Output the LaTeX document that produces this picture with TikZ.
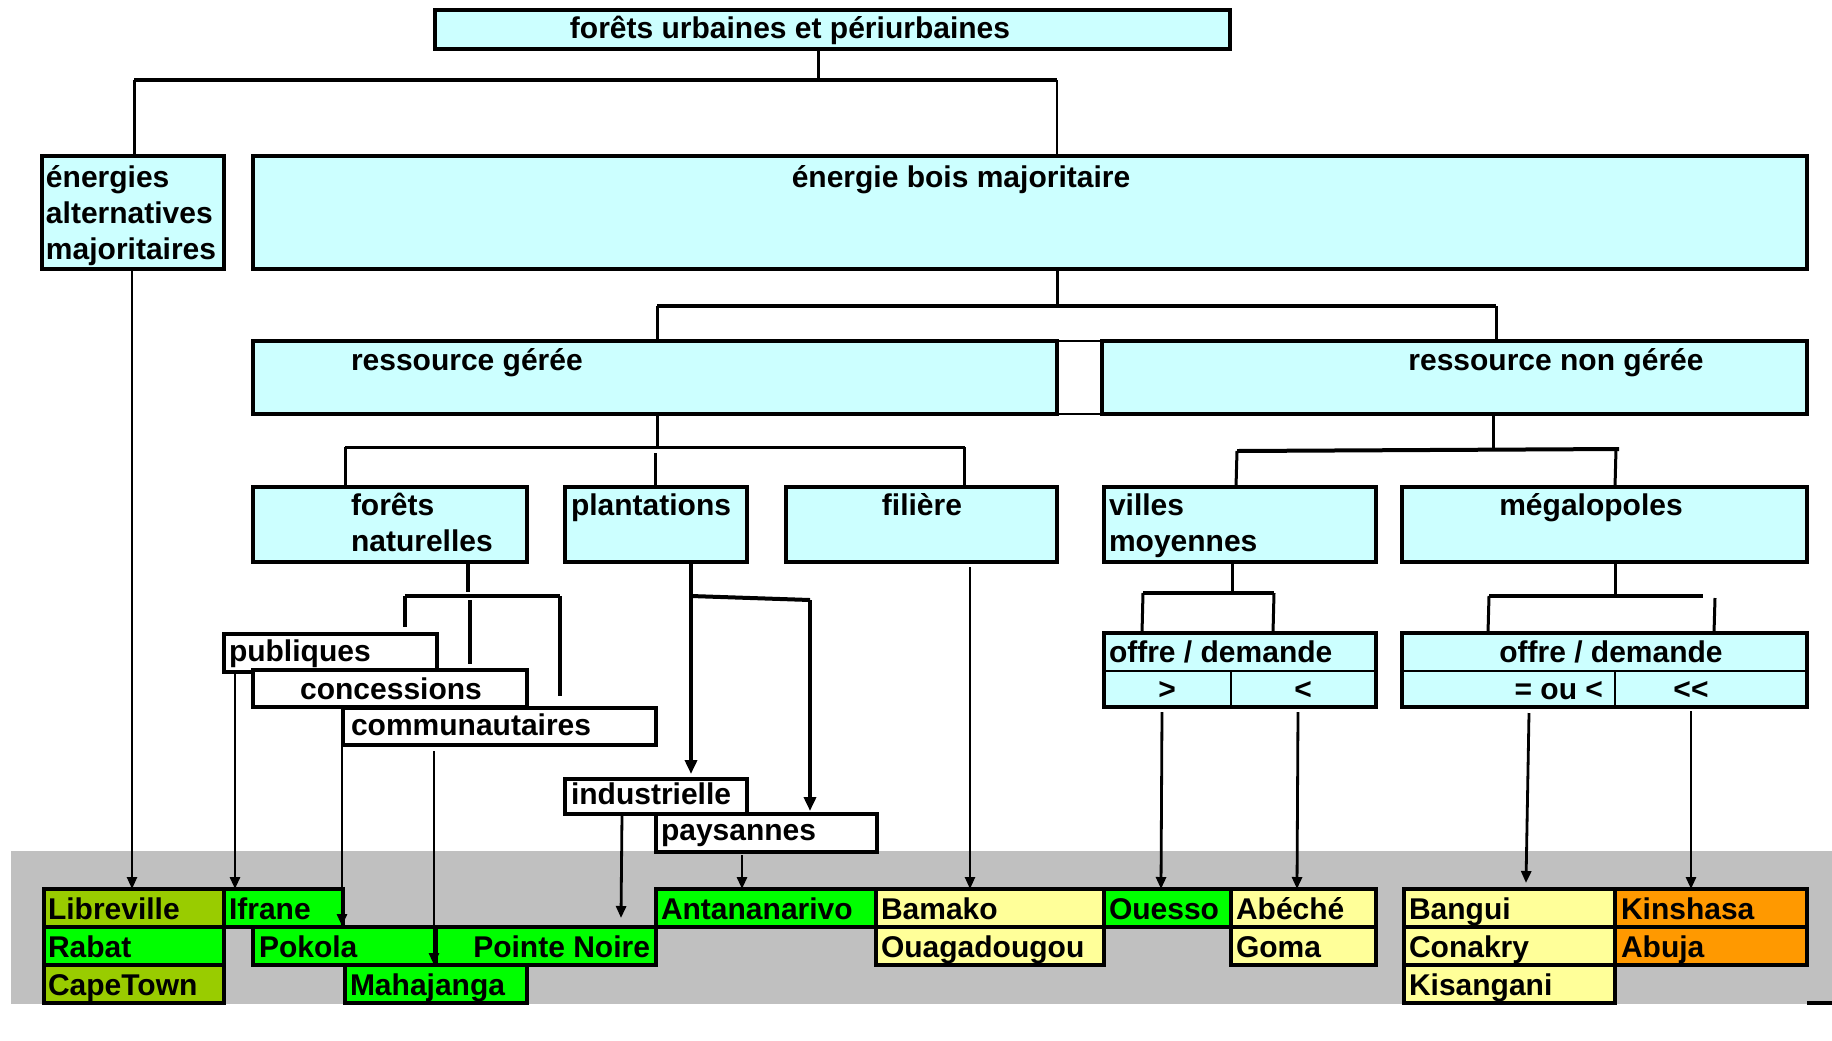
\documentclass[tikz,border=0pt]{standalone}
\usepackage{fontspec}
\setmainfont{Liberation Sans}
\usetikzlibrary{fit,arrows.meta}
\definecolor{cy}{HTML}{CCFFFF}
\definecolor{olv}{HTML}{99CC00}
\definecolor{grn}{HTML}{00FF00}
\definecolor{yel}{HTML}{FFFF99}
\definecolor{org}{HTML}{FF9900}
\definecolor{bandgray}{HTML}{C0C0C0}
\tikzset{
 bx/.style={draw, line width=1.75pt, fill=cy, inner sep=0pt, outer sep=0pt},
 wbx/.style={bx, fill=white},
 lbl/.style={font=\bfseries\fontsize{15pt}{18pt}\selectfont, inner sep=0pt, outer sep=0pt, yshift=-1pt},
 con/.style={line width=1.5pt},
 conthin/.style={line width=1pt},
 conthick/.style={line width=2pt},
 arr/.style={line width=1.4pt, -{Triangle[length=6pt,width=5pt]}},
 arrthin/.style={line width=1.2pt, -{Triangle[length=6pt,width=5pt]}},
 arrthick/.style={line width=2.2pt, -{Triangle[length=7pt,width=6pt]}},
}
\begin{document}
\begin{tikzpicture}[x=0.5pt,y=-0.5pt]
\useasboundingbox (0,0) rectangle (1832,1040);
\fill[bandgray] (11,851) rectangle (1832,1004);

% ---- boxes ----
\node[bx, fit={(435,10) (1230,49)}] (top) {};
\node[lbl, anchor=base] (top-t) at (790,36) {forêts urbaines et périurbaines};

\node[bx, fit={(42,156) (224,269)}] (alt) {};
\node[lbl, anchor=base west] (alt-t1) at (46,185) {énergies};
\node[lbl, anchor=base west] (alt-t2) at (46,221) {alternatives};
\node[lbl, anchor=base west] (alt-t3) at (46,257) {majoritaires};

\node[bx, fit={(253,156) (1807,269)}] (bois) {};
\node[lbl, anchor=base] (bois-t) at (961,185) {énergie bois majoritaire};

\node[draw, line width=1pt, fill=white, inner sep=0pt, fit={(1057,341) (1102,414)}] (gap) {};
\node[bx, fit={(253,341) (1057,414)}] (gere) {};
\node[lbl, anchor=base west] (gere-t) at (351,368) {ressource gérée};
\node[bx, fit={(1102,341) (1807,414)}] (ngere) {};
\node[lbl, anchor=base] (ngere-t) at (1556,368) {ressource non gérée};

\node[bx, fit={(253,487) (527,562)}] (fn) {};
\node[lbl, anchor=base west] (fn-t1) at (351,513) {forêts};
\node[lbl, anchor=base west] (fn-t2) at (351,549) {naturelles};
\node[bx, fit={(565,487) (747,562)}] (plant) {};
\node[lbl, anchor=base west] (plant-t) at (571,513) {plantations};
\node[bx, fit={(786,487) (1057,562)}] (fil) {};
\node[lbl, anchor=base] (fil-t) at (922,513) {filière};
\node[bx, fit={(1104,487) (1376,562)}] (villes) {};
\node[lbl, anchor=base west] (villes-t1) at (1109,513) {villes};
\node[lbl, anchor=base west] (villes-t2) at (1109,549) {moyennes};
\node[bx, fit={(1402,487) (1807,562)}] (mega) {};
\node[lbl, anchor=base] (mega-t) at (1591,513) {mégalopoles};

\node[bx, fit={(1104,633) (1376,707)}] (od1) {};
\draw[line width=1.25pt] (od1.west |- 0,671) -- (od1.east |- 0,671);
\draw[line width=1.25pt] (1231,671) -- (od1.south -| 1231,0);
\node[lbl, anchor=base west] (od1-t) at (1109,660) {offre / demande};
\node[lbl, anchor=base] (od1-a) at (1167,697) {>};
\node[lbl, anchor=base] (od1-b) at (1303,697) {<};

\node[bx, fit={(1402,633) (1807,707)}] (od2) {};
\draw[line width=1.25pt] (od2.west |- 0,671) -- (od2.east |- 0,671);
\draw[line width=1.25pt] (1615,671) -- (od2.south -| 1615,0);
\node[lbl, anchor=base] (od2-t) at (1611,660) {offre / demande};
\node[lbl, anchor=base east] (od2-a) at (1603,697) {= ou <};
\node[lbl, anchor=base] (od2-b) at (1691,697) {<\kern0pt<};

\node[wbx, fit={(224,634) (437,672)}] (pub) {};
\node[lbl, anchor=base west] (pub-t) at (229,659) {publiques};
\node[wbx, fit={(253,670) (527,707)}] (conc) {};
\node[lbl, anchor=base] (conc-t) at (391,697) {concessions};
\node[wbx, fit={(343,708) (656,745)}] (comm) {};
\node[lbl, anchor=base west] (comm-t) at (351,733) {communautaires};
\node[wbx, fit={(565,779) (747,814)}] (ind) {};
\node[lbl, anchor=base west] (ind-t) at (571,802) {industrielle};
\node[wbx, fit={(656,814) (877,852)}] (pay) {};
\node[lbl, anchor=base west] (pay-t) at (661,838) {paysannes};

% ---- city cells ----
\node[bx, fill=olv, fit={(44,889) (224,927)}] (lib) {};
\node[lbl, anchor=base west] (lib-t) at (48,917) {Libreville};
\node[bx, fill=grn, fit={(224,889) (343,927)}] (ifr) {};
\node[lbl, anchor=base west] (ifr-t) at (229,917) {Ifrane};
\node[bx, fill=grn, fit={(44,927) (224,965)}] (rab) {};
\node[lbl, anchor=base west] (rab-t) at (48,955) {Rabat};
\node[bx, fill=olv, fit={(44,965) (224,1003)}] (cap) {};
\node[lbl, anchor=base west] (cap-t) at (48,993) {CapeTown};
\node[bx, fill=grn, fit={(253,927) (436,965)}] (pok) {};
\node[lbl, anchor=base west] (pok-t) at (259,955) {Pokola};
\node[bx, fill=grn, fit={(436,927) (656,965)}] (pno) {};
\node[lbl, anchor=base east] (pno-t) at (650,955) {Pointe Noire};
\node[bx, fill=grn, fit={(345,965) (527,1003)}] (mah) {};
\node[lbl, anchor=base west] (mah-t) at (350,993) {Mahajanga};
\node[bx, fill=grn, fit={(656,889) (876,927)}] (ant) {};
\node[lbl, anchor=base west] (ant-t) at (661,917) {Antananarivo};
\node[bx, fill=yel, fit={(876,889) (1104,927)}] (bam) {};
\node[lbl, anchor=base west] (bam-t) at (881,917) {Bamako};
\node[bx, fill=yel, fit={(876,927) (1104,965)}] (oua) {};
\node[lbl, anchor=base west] (oua-t) at (881,955) {Ouagadougou};
\node[bx, fill=grn, fit={(1104,889) (1231,927)}] (oue) {};
\node[lbl, anchor=base west] (oue-t) at (1109,917) {Ouesso};
\node[bx, fill=yel, fit={(1231,889) (1376,927)}] (abe) {};
\node[lbl, anchor=base west] (abe-t) at (1236,917) {Abéché};
\node[bx, fill=yel, fit={(1231,927) (1376,965)}] (gom) {};
\node[lbl, anchor=base west] (gom-t) at (1236,955) {Goma};
\node[bx, fill=yel, fit={(1404,889) (1615,927)}] (ban) {};
\node[lbl, anchor=base west] (ban-t) at (1409,917) {Bangui};
\node[bx, fill=yel, fit={(1404,927) (1615,965)}] (con) {};
\node[lbl, anchor=base west] (con-t) at (1409,955) {Conakry};
\node[bx, fill=yel, fit={(1404,965) (1615,1003)}] (kis) {};
\node[lbl, anchor=base west] (kis-t) at (1409,993) {Kisangani};
\node[bx, fill=org, fit={(1615,889) (1807,927)}] (kin) {};
\node[lbl, anchor=base west] (kin-t) at (1621,917) {Kinshasa};
\node[bx, fill=org, fit={(1615,927) (1807,965)}] (abu) {};
\node[lbl, anchor=base west] (abu-t) at (1621,955) {Abuja};
\draw[line width=1.75pt] (1807,1003) -- (1832,1003);

% ---- tree connectors ----
\coordinate (jTop) at (818,80);
\coordinate (hL) at (134,80);
\coordinate (hR) at (1057,80);
\draw[con] (top.south -| jTop) -- (jTop);
\draw[conthick] (hL) -- (hR);
\draw[con] (hL) -- (alt.north -| hL);
\draw[conthin] (hR) -- (bois.north -| hR);

\coordinate (jB) at (1057,306);
\coordinate (gL) at (657,306);
\coordinate (gR) at (1496,306);
\draw[con] (bois.south -| jB) -- (jB);
\draw[conthick] (gL) -- (gR);
\draw[con] (gL) -- (gere.north -| gL);
\draw[con] (gR) -- (ngere.north -| gR);

\coordinate (jG) at (657,447);
\coordinate (fL) at (345,447);
\coordinate (fR) at (965,447);
\draw[con] (gere.south -| jG) -- (jG);
\draw[con] (fL) -- (fR);
\draw[con] (fL) -- (fn.north -| fL);
\draw[con] (655,453) -- (plant.north -| 655,0);
\draw[con] (964,447) -- (fil.north -| 964,0);

\coordinate (jN) at (1493,449);
\coordinate (nL) at (1237,451);
\coordinate (nR) at (1619,449);
\draw[con] (ngere.south -| 1493,0) -- (jN);
\draw[conthick] (nL) -- (nR);
\draw[con] (nL) -- (villes.north -| 1236,0);
\draw[con] (1616,449) -- (mega.north -| 1615,0);

\coordinate (jV) at (1232,593);
\coordinate (vL) at (1143,593);
\coordinate (vR) at (1274,593);
\draw[con] (villes.south -| jV) -- (jV);
\draw[conthick] (vL) -- (vR);
\draw[con] (vL) -- (od1.north -| 1142,0);
\draw[con] (vR) -- (od1.north -| 1273,0);

\coordinate (jM) at (1615,596);
\coordinate (mL) at (1489,596);
\coordinate (mR) at (1703,596);
\draw[con] (mega.south -| jM) -- (jM);
\draw[conthick] (mL) -- (mR);
\draw[con] (mL) -- (od2.north -| 1488,0);
\draw[con] (1715,598) -- (od2.north -| 1714,0);

\coordinate (jF) at (468,596);
\coordinate (pL) at (405,596);
\coordinate (pR) at (560,596);
\coordinate (pLend) at (405,627);
\coordinate (pMend) at (470,664);
\coordinate (pRend) at (560,696);
\draw[conthick] (fn.south -| jF) -- (468,592);
\draw[conthick] (pL) -- (pR);
\draw[conthick] (pL) -- (pLend);
\draw[conthick] (470,600) -- (pMend);
\draw[conthick] (pR) -- (pRend);

\coordinate (jP) at (691,596);
\coordinate (jP2) at (810,600);
\draw[arrthick] (plant.south -| jP) -- (691,774);
\draw[conthick] (jP) -- (jP2);
\draw[arrthick] (jP2) -- (810,811);

% ---- arrows to cities ----
\draw[arrthin] (alt.south -| 132,0) -- (lib.north -| 132,0);
\draw[arr] (pub.south -| 235,0) -- (ifr.north -| 235,0);
\draw[arr] (conc.south -| 342,0) -- (342,926);
\draw[arr] (434,751) -- (pok.south -| 434,0);
\draw[arr] (ind.south -| 622,0) -- (621,918);
\draw[arr] (742,855) -- (ant.north -| 742,0);
\draw[arrthin] (970,567) -- (bam.north -| 970,0);
\draw[arr] (1162,712) -- (oue.north -| 1161,0);
\draw[arr] (1298,712) -- (abe.north -| 1297,0);
\draw[arr] (1529,713) -- (1526,883);
\draw[arr] (1691,711) -- (kin.north -| 1691,0);
\end{tikzpicture}
\end{document}
